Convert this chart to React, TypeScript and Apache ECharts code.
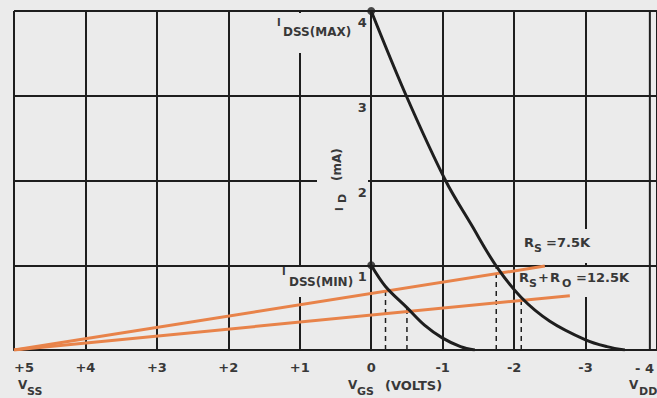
import React, { useEffect, useRef } from "react";
import * as echarts from "echarts";

// ---- data ----
const maxCurveV = [0, -0.49, -1.04, -1.4, -1.75, -2.1, -2.5, -3.0, -3.3, -3.55];
const maxCurveI = [4, 3, 2, 1.48, 0.99, 0.62, 0.34, 0.12, 0.04, 0];
const minCurveV = [0, -0.2, -0.5, -0.75, -1.0, -1.25, -1.45];
const minCurveI = [1, 0.75, 0.5, 0.29, 0.14, 0.04, 0];
const load75V = [5, -2.43];
const load75I = [0, 0.99];
const load125V = [5, -2.78];
const load125I = [0, 0.64];
const opV = [-0.2, -0.5, -1.75, -2.1];
const opI = [0.75, 0.5, 0.99, 0.62];
const idssV = [0, 0];
const idssI = [4, 1];
const frameRightV = -3.9;
const xMin = -4;
const xMax = 5;
const yMin = 0;
const yMax = 4;

const FONT = '"DejaVu Sans", sans-serif';
const TXT = "#383838";
const INK = "#1e1e1e";
const BG = "#ebebeb";
const ORANGE = "#e8834a";

const GRID_LEFT = 14;
const GRID_RIGHT = -3;
const W = 657;

const zip = (a: number[], b: number[]) => a.map((v, i) => [v, b[i]]);

function txt(text: string, x: number, y: number, size = 13, extra: any = {}) {
  return {
    type: "text",
    x,
    y,
    z: 10,
    silent: true,
    style: {
      text,
      fill: TXT,
      font: `bold ${size}px ${FONT}`,
      textVerticalAlign: "top",
      ...extra,
    },
  };
}
function gap(x: number, y: number, w: number, h: number) {
  return { type: "rect", x, y, z: 1, silent: true, shape: { x: 0, y: 0, width: w, height: h }, style: { fill: BG } };
}

export default function App() {
  const ref = useRef<HTMLDivElement>(null);
  useEffect(() => {
    if (!ref.current) return;
    const chart = echarts.init(ref.current, undefined, { renderer: "svg" });
    const plotW = W - GRID_LEFT - GRID_RIGHT;
    // y axis sits at V = 0 (x axis is inverted: xMax at the left edge)
    const yAxisOffset = -((xMax - 0) / (xMax - xMin)) * plotW;
    const dashed = opV.map((v, i) => ({
      type: "line",
      data: [
        [v, 0],
        [v, opI[i]],
      ],
      symbol: "none",
      z: 3,
      lineStyle: { color: INK, width: 1.5, type: [5, 4] },
    }));
    chart.setOption({
      animation: false,
      backgroundColor: BG,
      grid: { left: GRID_LEFT, right: GRID_RIGHT, top: 11, bottom: 48 },
      xAxis: {
        type: "value",
        inverse: true,
        min: xMin,
        max: xMax,
        interval: 1,
        axisLine: { show: true, onZero: false, lineStyle: { color: INK, width: 2 } },
        axisTick: { show: false },
        splitLine: { show: true, lineStyle: { color: INK, width: 2 } },
        axisLabel: {
          color: TXT,
          fontFamily: FONT,
          fontWeight: "bold",
          fontSize: 13,
          margin: 11,
          showMinLabel: false,
          alignMaxLabel: "left",
          formatter: (v: number) => (v > 0 ? "+" + v : v < 0 ? "-" + Math.abs(v) : "0"),
        },
      },
      yAxis: {
        type: "value",
        position: "left",
        offset: yAxisOffset,
        min: yMin,
        max: yMax,
        interval: 1,
        axisLine: { show: false, onZero: false },
        axisTick: { show: false },
        splitLine: { show: true, lineStyle: { color: INK, width: 2 } },
        axisLabel: {
          color: TXT,
          fontFamily: FONT,
          fontWeight: "bold",
          fontSize: 13,
          margin: 6,
          verticalAlign: "top",
          padding: [5, 0, 0, 0],
          formatter: (v: number) => (v === 0 ? "" : String(v)),
        },
      },
      series: [
        {
          type: "line",
          data: [
            [frameRightV, yMin],
            [frameRightV, yMax],
          ],
          symbol: "none",
          z: 2,
          lineStyle: { color: INK, width: 2 },
        },
        {
          type: "line",
          data: zip(load75V, load75I),
          symbol: "none",
          z: 4,
          lineStyle: { color: ORANGE, width: 3 },
        },
        {
          type: "line",
          data: zip(load125V, load125I),
          symbol: "none",
          z: 4,
          lineStyle: { color: ORANGE, width: 3 },
        },
        ...dashed,
        {
          type: "line",
          data: zip(maxCurveV, maxCurveI),
          symbol: "none",
          smooth: 0.35,
          z: 5,
          lineStyle: { color: INK, width: 3 },
        },
        {
          type: "line",
          data: zip(minCurveV, minCurveI),
          symbol: "none",
          smooth: 0.35,
          z: 5,
          lineStyle: { color: INK, width: 3 },
        },
        {
          type: "scatter",
          data: zip(idssV, idssI),
          symbolSize: 8,
          z: 6,
          itemStyle: { color: INK },
        },
      ],
      graphic: [
        gap(296, 13, 11, 40),
        gap(296, 267, 11, 30),
        gap(317, 177, 51, 7),
        gap(583, 229, 11, 34),
        gap(583, 267, 11, 30),
        // I_DSS(MAX)
        txt("I", 277, 17, 10),
        txt("DSS(MAX)", 283, 26, 12),
        // I_DSS(MIN)
        txt("I", 282, 266, 10),
        txt("DSS(MIN)", 289, 276, 12),
        // Rs = 7.5K
        txt("R", 524, 236, 13),
        txt("S", 534, 243, 11),
        txt("=7.5K", 546, 236, 13),
        // Rs + Ro = 12.5K
        txt("R", 519, 271, 13),
        txt("S", 529, 278, 11),
        txt("+", 538, 271, 13),
        txt("R", 550, 271, 13),
        txt("O", 562, 278, 11),
        txt("=12.5K", 576, 271, 13),
        // I_D (mA) rotated
        {
          type: "group",
          x: 343,
          y: 211,
          rotation: Math.PI / 2,
          children: [
            txt("I", 0, -9, 10),
            txt("D", 8, -6, 11),
            txt("(mA)", 30, -12, 12),
          ],
        },
        // axis end label and axis titles
        txt("- 4", 654, 362, 13, { textAlign: "right" }),
        txt("V", 18, 379, 12),
        txt("SS", 27, 386, 11),
        txt("V", 348, 379, 12),
        txt("GS", 357, 386, 11),
        txt("(VOLTS)", 385, 379, 13),
        txt("V", 629, 379, 12),
        txt("DD", 639, 386, 11),
      ],
    });
    return () => chart.dispose();
  }, []);
  return (
    <div
      ref={ref}
      style={{ position: "fixed", left: 0, top: 0, width: W, height: 398, background: BG }}
    />
  );
}
